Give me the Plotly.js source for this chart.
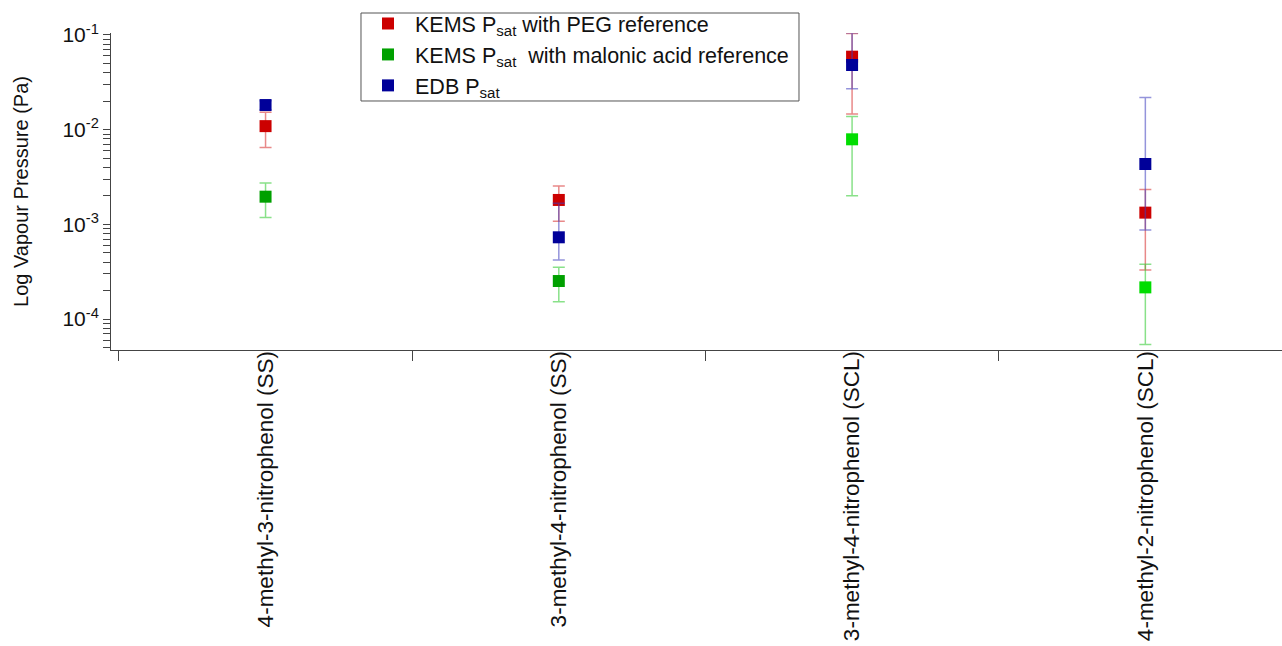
<!DOCTYPE html>
<html>
<head>
<meta charset="utf-8">
<script src="https://cdn.plot.ly/plotly-3.0.1.min.js"></script>
<style>
  html, body { margin: 0; padding: 0; background: #ffffff; }
  #chart { width: 1282px; height: 646px; }
</style>
</head>
<body>
<div id="chart"></div>
<script>
// ---- data ----
const categories = [
  '4-methyl-3-nitrophenol (SS)',
  '3-methyl-4-nitrophenol (SS)',
  '3-methyl-4-nitrophenol (SCL)',
  '4-methyl-2-nitrophenol (SCL)'
];
const seriesNames = [
  'KEMS P<sub>sat</sub> with PEG reference',
  'KEMS P<sub>sat</sub>&nbsp; with malonic acid reference',
  'EDB P<sub>sat</sub>'
];
const kemsPeg      = [0.0109, 0.00181, 0.0590, 0.00133];
const kemsPegErr   = [0.0044, 0.00073, 0.0444, 0.00100];
const kemsMal      = [0.00196, 0.000252, 0.00791, 0.000216];
const kemsMalErr   = [0.00078, 0.000100, 0.00590, 0.000162];
const edb          = [0.0182, 0.00073, 0.0482, 0.00434];
const edbErrPlus   = [0.0020, 0.00094, 0.0575, 0.0175];
const edbErrMinus  = [0.0020, 0.00031, 0.0211, 0.00347];
const greenColors  = ['#00a000', '#00a000', '#00dd00', '#00dd00'];
const yDecades     = [-5, -4, -3, -2, -1];
const yLabels      = ['10<sup>-5</sup>', '10<sup>-4</sup>', '10<sup>-3</sup>', '10<sup>-2</sup>', '10<sup>-1</sup>'];

// ---- ticks (decades labelled, 2..9 unlabelled) ----
const tickvals = [], ticktext = [];
yDecades.forEach((d, i) => {
  for (let m = 1; m <= 9; m++) {
    if (d === -1 && m > 1) break;
    tickvals.push(m * Math.pow(10, d));
    ticktext.push(m === 1 ? yLabels[i] : '');
  }
});

const FONT = 'Liberation Sans, Arial, sans-serif';

const traces = [
  {
    type: 'scatter', mode: 'markers', name: seriesNames[0],
    x: categories, y: kemsPeg,
    marker: { symbol: 'square', size: 12, color: '#cc0000' },
    error_y: { type: 'data', array: kemsPegErr, visible: true,
               color: 'rgba(214,40,40,0.55)', thickness: 1.5, width: 6 }
  },
  {
    type: 'scatter', mode: 'markers', name: seriesNames[1],
    x: categories, y: kemsMal,
    marker: { symbol: 'square', size: 12, color: greenColors },
    error_y: { type: 'data', array: kemsMalErr, visible: true,
               color: 'rgba(40,200,40,0.55)', thickness: 1.5, width: 6 }
  },
  {
    type: 'scatter', mode: 'markers', name: seriesNames[2],
    x: categories, y: edb,
    marker: { symbol: 'square', size: 12, color: '#000099' },
    error_y: { type: 'data', symmetric: false, array: edbErrPlus, arrayminus: edbErrMinus,
               visible: true, color: 'rgba(60,60,190,0.55)', thickness: 1.5, width: 6 }
  }
];

const layout = {
  width: 1282, height: 646,
  margin: { l: 111, r: 0, t: 33, b: 296 },
  paper_bgcolor: '#ffffff', plot_bgcolor: '#ffffff',
  font: { family: FONT, color: '#111111' },
  showlegend: true,
  // legend frame drawn as a box so its padding matches the reference
  shapes: [{
    type: 'rect', xref: 'paper', yref: 'paper',
    x0: 0.21349, x1: 0.58753, y0: 0.78549, y1: 1.06309,
    line: { color: '#555555', width: 1 }, fillcolor: '#ffffff', layer: 'above'
  }],
  legend: {
    x: 0.2135, xanchor: 'left', y: 1.0946, yanchor: 'top',
    bgcolor: 'rgba(0,0,0,0)', borderwidth: 0,
    font: { family: FONT, size: 21.5, color: '#111111' },
    itemwidth: 44,
    tracegroupgap: 0
  },
  xaxis: {
    type: 'category',
    range: [-0.527, 3.466],
    showline: true, linecolor: '#444444', linewidth: 1,
    ticks: 'outside', ticklen: 10, tickcolor: '#444444', tickson: 'boundaries',
    tickangle: -90,
    tickfont: { family: FONT, size: 22.5, color: '#111111' },
    ticklabelstandoff: -9,
    showgrid: false, zeroline: false, automargin: false
  },
  yaxis: {
    type: 'log',
    range: [-4.327, -0.979],
    showline: true, linecolor: '#444444', linewidth: 1,
    ticks: 'outside', ticklen: 7, tickcolor: '#444444',
    tickmode: 'array', tickvals: tickvals, ticktext: ticktext,
    tickfont: { family: FONT, size: 21, color: '#111111' },
    title: { text: 'Log Vapour Pressure (Pa)', font: { family: FONT, size: 20, color: '#111111' }, standoff: 28 },
    showgrid: false, zeroline: false, automargin: false
  }
};

Plotly.newPlot('chart', traces, layout, { displayModeBar: false, staticPlot: true });
</script>
</body>
</html>
